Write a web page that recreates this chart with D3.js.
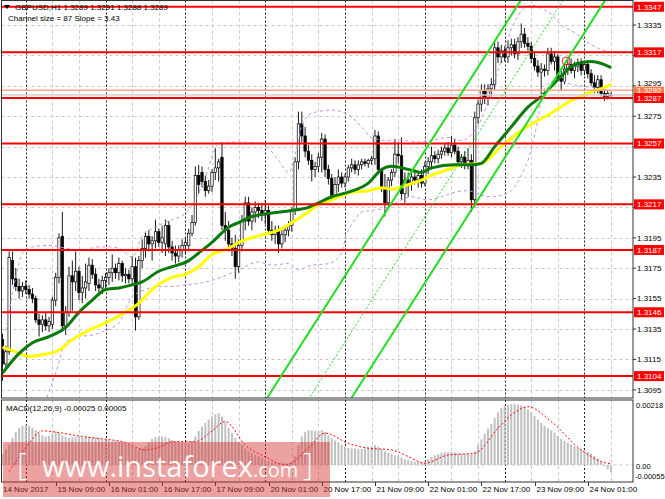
<!DOCTYPE html>
<html><head><meta charset="utf-8">
<script src="https://cdn.jsdelivr.net/npm/d3@7"></script>
<style>body{margin:0;background:#fff;}svg{display:block;font-family:"Liberation Sans",Arial,sans-serif;}</style>
</head><body><svg id="c" width="665" height="499"></svg>
<script>
// ---------- DATA ----------
const symbolLine = "GBPUSD,H1  1.3289 1.3291 1.3288 1.3289";
const channelLine = "Channel size = 87 Slope = 3.43";
const macdLine = "MACD(12,26,9) -0.00025 0.00005";
// H1 candles, bar 0 = 14 Nov 2017 17:00 ... bar 183 = 24 Nov 08:00; prices in 1e-4 units
const opens = [13128,13112,13120,13180,13168,13163,13160,13163,13161,13158,13155,13141,13138,13141,13137,13138,13154,13169,13196,13137,13146,13170,13166,13173,13159,13162,13165,13177,13171,13164,13162,13167,13169,13172,13175,13172,13178,13170,13171,13168,13176,13143,13180,13188,13196,13191,13193,13199,13192,13191,13203,13189,13185,13183,13187,13190,13190,13198,13205,13236,13238,13232,13226,13229,13238,13241,13248,13203,13200,13191,13188,13176,13190,13206,13218,13206,13212,13215,13213,13210,13213,13200,13197,13200,13191,13197,13200,13203,13213,13245,13270,13262,13252,13246,13240,13242,13248,13260,13240,13234,13223,13230,13235,13231,13235,13241,13243,13240,13243,13245,13244,13246,13247,13262,13240,13228,13218,13233,13238,13250,13249,13224,13233,13230,13235,13233,13236,13231,13242,13245,13249,13247,13250,13252,13254,13251,13256,13252,13245,13248,13244,13246,13220,13274,13283,13292,13287,13293,13296,13320,13314,13318,13314,13320,13322,13316,13324,13329,13323,13321,13313,13308,13304,13306,13305,13316,13311,13314,13300,13298,13306,13309,13305,13308,13310,13305,13309,13303,13297,13294,13299,13290,13288,13289];
const highs = [13132,13124,13186,13186,13175,13168,13166,13167,13164,13162,13157,13145,13144,13146,13143,13156,13172,13198,13212,13150,13176,13180,13186,13176,13170,13178,13182,13181,13175,13168,13170,13172,13175,13184,13178,13182,13180,13175,13174,13183,13182,13183,13194,13199,13200,13196,13207,13201,13203,13207,13206,13193,13190,13190,13194,13195,13201,13210,13242,13243,13242,13236,13233,13240,13254,13247,13258,13212,13206,13195,13197,13194,13210,13222,13222,13215,13219,13218,13218,13220,13216,13206,13203,13203,13200,13202,13206,13215,13248,13278,13278,13268,13256,13250,13245,13251,13264,13263,13243,13237,13235,13240,13238,13237,13243,13247,13246,13246,13247,13247,13247,13249,13266,13265,13241,13237,13235,13240,13260,13258,13261,13238,13238,13238,13240,13238,13240,13245,13248,13255,13252,13253,13255,13257,13258,13262,13260,13255,13250,13252,13254,13250,13278,13286,13296,13296,13296,13300,13325,13324,13322,13321,13325,13326,13326,13327,13336,13333,13327,13324,13318,13312,13310,13309,13320,13320,13318,13316,13305,13310,13312,13313,13311,13313,13313,13311,13312,13306,13302,13302,13302,13294,13292,13291];
const lows = [13101,13108,13118,13164,13160,13155,13156,13158,13155,13152,13139,13130,13133,13134,13133,13135,13150,13165,13133,13131,13143,13147,13160,13154,13152,13155,13160,13168,13160,13157,13158,13162,13164,13166,13168,13167,13166,13165,13165,13164,13134,13141,13175,13182,13186,13180,13188,13189,13185,13183,13185,13180,13178,13179,13182,13184,13186,13196,13203,13224,13228,13222,13224,13225,13233,13232,13200,13193,13186,13183,13168,13172,13186,13200,13203,13200,13205,13208,13206,13204,13197,13193,13191,13185,13188,13192,13196,13199,13210,13240,13258,13248,13243,13232,13235,13238,13238,13235,13230,13220,13220,13225,13228,13228,13232,13238,13237,13236,13240,13242,13241,13243,13243,13238,13225,13209,13216,13229,13235,13244,13220,13218,13222,13226,13230,13228,13228,13229,13237,13240,13244,13244,13247,13249,13249,13248,13250,13243,13241,13240,13240,13212,13215,13270,13278,13283,13282,13288,13292,13310,13310,13311,13310,13315,13313,13312,13320,13320,13318,13310,13305,13301,13286,13301,13302,13309,13305,13298,13292,13296,13302,13303,13300,13304,13302,13302,13300,13295,13290,13290,13288,13285,13286,13288];
const closes = [13112,13120,13182,13168,13163,13160,13163,13161,13158,13155,13141,13138,13141,13137,13140,13154,13169,13195,13137,13146,13170,13166,13173,13159,13162,13166,13177,13171,13164,13162,13167,13169,13172,13175,13172,13178,13170,13171,13168,13176,13143,13180,13188,13196,13191,13193,13199,13192,13195,13203,13189,13185,13183,13187,13190,13192,13198,13205,13236,13230,13232,13226,13229,13238,13241,13245,13203,13200,13191,13188,13176,13190,13206,13218,13206,13212,13215,13213,13210,13213,13200,13197,13200,13191,13197,13200,13203,13213,13245,13270,13262,13252,13246,13240,13242,13248,13260,13240,13234,13223,13230,13235,13231,13235,13241,13243,13240,13243,13245,13244,13246,13247,13262,13240,13228,13218,13233,13238,13250,13249,13224,13233,13230,13235,13233,13236,13231,13242,13245,13249,13247,13250,13252,13254,13251,13256,13252,13245,13248,13244,13246,13220,13274,13283,13292,13287,13293,13296,13320,13314,13318,13314,13320,13322,13316,13324,13329,13323,13321,13313,13308,13304,13306,13305,13316,13311,13314,13300,13298,13306,13309,13305,13308,13310,13305,13309,13303,13297,13294,13299,13290,13288,13290,13289];

// moving averages (bar index, price 1e-4)
const greenBars = [0,5,9,14,19,23,27,31,35,39,42,47,51,56,59,63,68,71,75,80,87,92,95,99,104,110,114,117,122,126,129,136,141,144,148,153,158,162,167,172,177,181,183];
const greenMA = [13106,13119,13126,13130,13136,13146,13154,13161,13162,13164,13166,13173,13176,13180,13185,13192,13202,13205,13209,13211,13213,13215,13218,13222,13225,13231,13240,13242,13240,13238,13241,13243,13243,13244,13255,13268,13281,13288,13299,13309,13311,13309,13307];
const yellowBars = [0,4,8,12,17,21,25,31,37,41,45,51,55,59,63,68,71,75,80,83,87,92,95,99,105,110,114,117,122,126,129,134,138,144,150,155,160,165,170,176,181,183];
const yellowMA = [13123,13120,13117,13118,13121,13128,13133,13139,13146,13152,13161,13169,13171,13176,13184,13188,13192,13195,13198,13200,13205,13212,13217,13220,13225,13226,13228,13227,13230,13233,13236,13240,13243,13244,13255,13264,13271,13277,13284,13290,13294,13296];
// envelope / band lines (dashed violet)
const upperBars = [1,4,6,9,14,17,24,29,33,36,39,42,46,51,55,58,61,65,71,78,83,86,89,90,93,99,104,108,111,116,120,126,129,134,138,141,144,147,150,153,156,159,162,165,168,172,177,183];
const upperBand = [13134,13169,13185,13189,13190,13189,13187,13189,13189,13187,13182,13196,13202,13207,13211,13220,13235,13257,13258,13257,13246,13238,13259,13269,13277,13279,13276,13268,13261,13259,13259,13258,13259,13261,13259,13263,13273,13292,13312,13332,13344,13348,13346,13342,13335,13330,13322,13317];
const lowerBars = [11,13,16,19,23,27,31,35,37,39,43,47,51,55,59,63,68,71,77,81,86,89,93,98,102,103,106,108,111,116,120,123,128,132,136,140,144,147,150,153,156,159,161,162,164,167,171,177,183];
const lowerBand = [13075,13088,13106,13126,13130,13131,13134,13139,13148,13156,13161,13163,13163,13164,13165,13167,13171,13174,13179,13177,13178,13174,13177,13178,13185,13194,13207,13212,13213,13215,13220,13222,13220,13222,13225,13226,13223,13222,13223,13226,13236,13253,13273,13286,13296,13299,13296,13294,13292];
// horizontal support / resistance levels
const levels = [1.3347,1.3317,1.3287,1.3257,1.3217,1.3187,1.3146,1.3104];
const askPrice = 1.3292, bidPrice = 1.3289;
// equidistant channel: anchor on lower line
const channelAnchorBar = 141, channelAnchorPrice = 1.32133, channelSlopePips = 3.43, channelSizePips = 87;
const markerBar = 169.5, markerPrice = 1.33113;
// price axis ticks
const priceTicks = [1.3335,1.3315,1.3295,1.3275,1.3255,1.3235,1.3215,1.3195,1.3175,1.3155,1.3135,1.3115,1.3095];
// time axis
const timeTickBars = [0,16,32,48,64,80,96,112,128,144,160,176];
const timeTickLabels = ["14 Nov 2017","15 Nov 09:00","16 Nov 01:00","16 Nov 17:00","17 Nov 09:00","20 Nov 01:00","20 Nov 17:00","21 Nov 09:00","22 Nov 01:00","22 Nov 17:00","23 Nov 09:00","24 Nov 01:00"];
const daySepBars = [7,31,55,79,103,127,151,175];
const gridBars = [15,23,39,47,63,71,87,95,111,119,135,143,159,167,183];
// MACD main (histogram) per bar, units 1e-5
const macdHist = [40,55,70,95,115,130,138,141,138,130,122,112,104,100,102,110,118,112,104,98,96,98,100,99,97,98,100,99,96,94,92,90,88,86,85,83,80,76,70,64,58,55,58,66,80,92,98,100,100,98,94,88,84,80,78,76,78,84,100,120,135,148,160,170,178,182,170,150,130,112,95,82,70,58,50,42,36,32,26,20,14,10,8,6,8,6,6,10,30,70,100,115,122,122,120,118,122,116,104,94,86,80,72,64,60,58,57,56,56,58,62,66,70,64,55,48,42,38,34,30,26,20,17,14,12,10,11,14,20,28,34,38,42,44,45,46,44,41,40,40,38,36,48,70,90,110,128,145,165,185,200,208,212,214,214,212,210,205,195,185,172,160,148,138,130,122,114,102,92,84,78,72,66,60,54,50,46,40,32,22,10,-4,-15,-25];
const signalBars = [2,7,12,18,24,30,36,43,47,51,58,63,67,73,79,85,92,97,104,110,117,122,127,134,142,149,154,158,165,174,182,183];
const macdSignal = [-23,60,120,112,100,92,82,53,62,82,82,120,153,70,29,0,59,112,76,59,53,30,6,35,41,129,185,205,153,53,6,5];

// ---------- DRAW ----------
const svg = d3.select("#c");
const P = v => v / 10000;
const L = 1.5, R = 633, MT = 0.5, MB = 398, DT = 400, DB = 482;
const x = d3.scaleLinear().domain([-0.75, 189.6]).range([0, 633]);
const y = d3.scaleLinear().domain([1.30896, 1.33508]).range([398, 1]);
const ym = d3.scaleLinear().domain([-0.00055, 0.00218]).range([480.6, 403]);

const defs = svg.append("defs");
defs.append("clipPath").attr("id","cm").append("rect").attr("x",L).attr("y",MT).attr("width",R-L).attr("height",MB-MT);
defs.append("clipPath").attr("id","cd").append("rect").attr("x",L).attr("y",DT).attr("width",R-L).attr("height",DB-DT);

svg.append("rect").attr("width",665).attr("height",499).attr("fill","#fff");

const gm = svg.append("g").attr("clip-path","url(#cm)");
const gd = svg.append("g").attr("clip-path","url(#cd)");

// grid main
gm.selectAll(".hg").data(priceTicks).join("line")
  .attr("x1",L).attr("x2",R).attr("y1",d=>Math.round(y(d))+0.5).attr("y2",d=>Math.round(y(d))+0.5)
  .attr("stroke","#c8c8c8").attr("stroke-dasharray","3,3");
[gm, gd].forEach((g,k)=>{
  const y1 = k? DT : MT, y2 = k? DB : MB;
  g.selectAll(".vg").data(gridBars).join("line")
    .attr("x1",d=>Math.round(x(d))+0.5).attr("x2",d=>Math.round(x(d))+0.5).attr("y1",y1).attr("y2",y2)
    .attr("stroke","#c8c8c8").attr("stroke-dasharray","3,3");
  g.selectAll(".ds").data(daySepBars).join("line")
    .attr("x1",d=>Math.round(x(d))+0.5).attr("x2",d=>Math.round(x(d))+0.5).attr("y1",y1).attr("y2",y2)
    .attr("stroke","#222").attr("stroke-dasharray","2,2");
});
gd.append("line").attr("x1",L).attr("x2",R).attr("y1",ym(0)).attr("y2",ym(0))
  .attr("stroke","#c8c8c8").attr("stroke-dasharray","3,3");

// candles
const idx = d3.range(opens.length);
gm.selectAll(".wk").data(idx).join("line")
  .attr("x1",i=>x(i)).attr("x2",i=>x(i)).attr("y1",i=>y(P(highs[i]))).attr("y2",i=>y(P(lows[i])))
  .attr("stroke","#000").attr("stroke-width",0.9);
gm.selectAll(".bd").data(idx).join("rect")
  .attr("x",i=>x(i)-1.2).attr("width",2.4)
  .attr("y",i=>Math.min(y(P(opens[i])),y(P(closes[i]))))
  .attr("height",i=>Math.max(0.8,Math.abs(y(P(opens[i]))-y(P(closes[i])))))
  .attr("fill",i=>closes[i]>=opens[i]?"#fff":"#000").attr("stroke","#000").attr("stroke-width",0.7);

// bands
const bandLine = d3.line().x(d=>x(d[0])).y(d=>y(P(d[1]))).curve(d3.curveMonotoneX);
gm.append("path").datum(upperBars.map((b,i)=>[b,upperBand[i]])).attr("d",bandLine)
  .attr("fill","none").attr("stroke","#c58ee8").attr("stroke-width",1).attr("stroke-dasharray","3,3");
gm.append("path").datum(lowerBars.map((b,i)=>[b,lowerBand[i]])).attr("d",bandLine)
  .attr("fill","none").attr("stroke","#c58ee8").attr("stroke-width",1).attr("stroke-dasharray","3,3");

// MAs
gm.append("path").datum(yellowBars.map((b,i)=>[b,yellowMA[i]])).attr("d",bandLine)
  .attr("fill","none").attr("stroke","#ffff00").attr("stroke-width",3);
gm.append("path").datum(greenBars.map((b,i)=>[b,greenMA[i]])).attr("d",bandLine)
  .attr("fill","none").attr("stroke","#0a7a0a").attr("stroke-width",3);

// bid / ask lines
gm.append("line").attr("x1",L).attr("x2",R).attr("y1",y(askPrice)).attr("y2",y(askPrice)).attr("stroke","#f7a58a").attr("stroke-width",1.5);
gm.append("line").attr("x1",L).attr("x2",R).attr("y1",y(bidPrice)).attr("y2",y(bidPrice)).attr("stroke","#d0d0d0").attr("stroke-width",1.5);

// levels
gm.selectAll(".lv").data(levels).join("line")
  .attr("x1",L).attr("x2",R).attr("y1",d=>y(d)).attr("y2",d=>y(d))
  .attr("stroke","#ff0000").attr("stroke-width",2);

// channel
const chan = (off) => [-20, 200].map(b => [b, channelAnchorPrice + (off + (b - channelAnchorBar) * channelSlopePips) / 10000]);
const cl = d3.line().x(d=>x(d[0])).y(d=>y(d[1]));
gm.append("path").attr("d",cl(chan(0))).attr("stroke","#22dd22").attr("stroke-width",2).attr("fill","none");
gm.append("path").attr("d",cl(chan(channelSizePips))).attr("stroke","#22dd22").attr("stroke-width",2).attr("fill","none");
gm.append("path").attr("d",cl(chan(channelSizePips/2))).attr("stroke","#22dd22").attr("stroke-width",1).attr("stroke-dasharray","2,2").attr("fill","none");

gm.append("circle").attr("cx",x(markerBar)).attr("cy",y(markerPrice)).attr("r",4)
  .attr("fill","none").attr("stroke","#ff2020").attr("stroke-width",1);

// MACD
gd.selectAll(".mh").data(idx).join("rect")
  .attr("x",i=>x(i)-1).attr("width",2)
  .attr("y",i=>Math.min(ym(macdHist[i]/1e5),ym(0)))
  .attr("height",i=>Math.abs(ym(macdHist[i]/1e5)-ym(0)))
  .attr("fill","#c0c0c0");
gd.append("path").datum(signalBars.map((b,i)=>[b,macdSignal[i]/1e5]))
  .attr("d",d3.line().x(d=>x(d[0])).y(d=>ym(d[1])).curve(d3.curveMonotoneX))
  .attr("fill","none").attr("stroke","#ff0000").attr("stroke-width",1).attr("stroke-dasharray","2,2");

// frames
svg.append("rect").attr("x",L).attr("y",MT).attr("width",R-L).attr("height",MB-MT).attr("fill","none").attr("stroke","#333");
svg.append("rect").attr("x",L).attr("y",DT).attr("width",R-L).attr("height",DB-DT).attr("fill","none").attr("stroke","#333");

// price axis labels (ticks fully hidden under a level tag are not drawn)
const ax = svg.append("g").attr("font-size",8).attr("fill","#000");
priceTicks.forEach(t=>{
  ax.append("line").attr("x1",R).attr("x2",R+3).attr("y1",y(t)).attr("y2",y(t)).attr("stroke","#333");
  const hidden = levels.some(l => Math.abs(y(l) - y(t)) < 6);
  if (!hidden) ax.append("text").attr("x",R+4).attr("y",y(t) - (Math.abs(y(t)-y(askPrice))<6 ? 3 : 0)).attr("dy","0.35em").text(t.toFixed(4));
});
function tag(v, bg, txt, h){
  ax.append("rect").attr("x",R+1).attr("y",y(v)-h/2).attr("width",30).attr("height",h).attr("fill",bg);
  ax.append("text").attr("x",R+4).attr("y",y(v)).attr("dy","0.35em").attr("fill",txt).text(v.toFixed(4));
}
tag(askPrice,"#ff7b4a","#fff",7.5);
levels.forEach(v=>tag(v,"#ff0000","#fff",10));

// MACD axis
const mx = svg.append("g").attr("font-size",7.5).attr("fill","#000");
mx.append("text").attr("x",R+3).attr("y",ym(0.00218)+2).attr("dy","0.35em").text("0.00218");
mx.append("text").attr("x",R+3).attr("y",ym(0)+1).attr("dy","0.35em").text("0.00");
mx.append("text").attr("x",R+2).attr("y",ym(-0.00055)-4).attr("dy","0.35em").text("-0.00055");

// time axis
timeTickBars.forEach((b,i)=>{
  const xx = Math.round(x(b))+0.5;
  if(i>0) ax.append("line").attr("x1",xx).attr("x2",xx).attr("y1",DB).attr("y2",DB+4).attr("stroke","#333");
  ax.append("text").attr("x", i===0 ? 3 : xx+1).attr("y",492).text(timeTickLabels[i]);
});

// header
const hd = svg.append("g").attr("font-size",8).attr("fill","#000");
hd.append("path").attr("d","M4,5 L10,5 L7,9 Z").attr("fill","#000");
hd.append("text").attr("x",15).attr("y",10).text(symbolLine);
hd.append("text").attr("x",8).attr("y",21).text(channelLine);
svg.append("text").attr("x",6).attr("y",411).attr("font-size",8).text(macdLine);

// watermark
const wm = svg.append("g");
wm.append("rect").attr("x",3).attr("y",442).attr("width",327).attr("height",55).attr("fill","rgb(214,48,48)").attr("opacity",0.45);
const wt = wm.append("g").attr("fill","#fff").attr("font-family","'Open Sans',sans-serif").attr("opacity",0.95);
wt.append("text").attr("x",17).attr("y",475).attr("font-size",31).attr("font-weight",300).text("[");
const t = wt.append("text").attr("x",42).attr("y",477).attr("font-size",29);
t.append("tspan").text("www.instaforex");
t.append("tspan").attr("font-size",20).text(".com");
wt.append("text").attr("x",303).attr("y",475).attr("font-size",31).attr("font-weight",300).text("]");
</script></body></html>
